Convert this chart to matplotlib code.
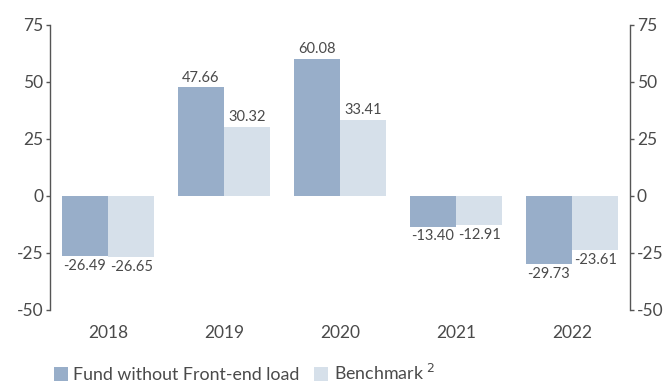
import numpy as np
import matplotlib.pyplot as plt
from matplotlib.patches import Patch

plt.rcParams["font.family"] = ["Lato", "DejaVu Sans"]
plt.rcParams["axes.unicode_minus"] = False

years = ["2018", "2019", "2020", "2021", "2022"]
fund = [-26.49, 47.66, 60.08, -13.40, -29.73]
benchmark = [-26.65, 30.32, 33.41, -12.91, -23.61]

fund_color = "#98aec9"
bench_color = "#d6e0ea"
text_color = "#4a4a4a"

fig = plt.figure(figsize=(6.64, 3.82), dpi=100)
ax = fig.add_axes([0.0753, 0.1885, 0.8735, 0.7461])

x = np.arange(len(years))
width = 0.4

b1 = ax.bar(x - width / 2, fund, width, color=fund_color)
b2 = ax.bar(x + width / 2, benchmark, width, color=bench_color)

# value labels: above positive bars, below negative ones
for bars, vals in ((b1, fund), (b2, benchmark)):
    for rect, v in zip(bars, vals):
        cx = rect.get_x() + rect.get_width() / 2
        ax.annotate(
            f"{v:.2f}",
            (cx, v),
            xytext=(0, 2 if v >= 0 else -2),
            textcoords="offset points",
            ha="center",
            va="bottom" if v >= 0 else "top",
            fontsize=10.5,
            color=text_color,
        )

ax.set_xlim(-0.5, len(years) - 0.5)
ax.set_ylim(-50, 75)
ax.set_yticks([-50, -25, 0, 25, 50, 75])
ax.set_xticks(x)
ax.set_xticklabels(years)

for side in ["top", "bottom"]:
    ax.spines[side].set_visible(False)
for side in ["left", "right"]:
    ax.spines[side].set_color("#555555")
    ax.spines[side].set_linewidth(1.0)

ax.tick_params(axis="x", length=0, pad=11, labelsize=12.5, labelcolor=text_color)
ax.tick_params(
    axis="y",
    which="both",
    left=True,
    right=True,
    labelleft=True,
    labelright=True,
    length=3,
    width=1.0,
    color="#555555",
    labelsize=12.5,
    labelcolor=text_color,
    pad=2,
)

handles = [
    Patch(facecolor=fund_color, label="Fund without Front-end load"),
    Patch(facecolor=bench_color, label="Benchmark $^2$"),
]
fig.legend(
    handles=handles,
    loc="lower left",
    bbox_to_anchor=(0.057, -0.045),
    ncol=2,
    frameon=False,
    fontsize=12.8,
    labelcolor=text_color,
    handlelength=0.8,
    handleheight=0.9,
    handletextpad=0.3,
    columnspacing=0.8,
)

fig.savefig("out.png", dpi=100)
